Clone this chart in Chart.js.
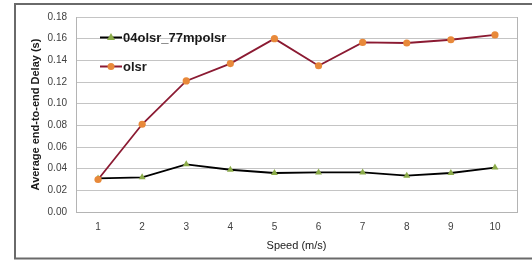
<!DOCTYPE html>
<html>
<head>
<meta charset="utf-8">
<script src="https://cdn.jsdelivr.net/npm/chart.js@4"></script>
<style>
  html, body { margin: 0; padding: 0; background: #fff; }
  #wrap { width: 532px; height: 260px; }
</style>
</head>
<body>
<div id="wrap"><canvas id="delayChart" width="532" height="260"></canvas></div>
<script>
// speeds on the x axis
const speeds = ['1', '2', '3', '4', '5', '6', '7', '8', '9', '10'];
// average end-to-end delay (s)
const mpolsrDelay = [0.031, 0.032, 0.044, 0.039, 0.036, 0.0365, 0.0365, 0.0335, 0.036, 0.041];
const olsrDelay = [0.030, 0.081, 0.121, 0.137, 0.160, 0.135, 0.1565, 0.156, 0.159, 0.1635];
const seriesNames = ['04olsr_77mpolsr', 'olsr'];
const yTicks = [0, 0.02, 0.04, 0.06, 0.08, 0.10, 0.12, 0.14, 0.16, 0.18];

const fontFamily = '"Liberation Sans", Arial, sans-serif';

// white background, outer frame and plot border
const framePlugin = {
    id: 'frame',
    beforeDraw(chart) {
        const ctx = chart.ctx;
        ctx.save();
        ctx.fillStyle = '#fff';
        ctx.fillRect(0, 0, chart.width, chart.height);
        ctx.strokeStyle = '#6a6a6a';
        ctx.lineWidth = 2;
        ctx.beginPath();
        ctx.moveTo(chart.width + 5, 4);
        ctx.lineTo(15, 4);
        ctx.lineTo(15, 258.5);
        ctx.lineTo(chart.width + 5, 258.5);
        ctx.stroke();
        ctx.restore();
    },
    afterDatasetsDraw(chart) {
        const a = chart.chartArea;
        const ctx = chart.ctx;
        ctx.save();
        ctx.strokeStyle = '#b4b4b4';
        ctx.lineWidth = 1;
        ctx.beginPath();
        ctx.moveTo(Math.round(a.right) + 0.5, a.top);
        ctx.lineTo(Math.round(a.right) + 0.5, a.bottom);
        ctx.stroke();
        ctx.restore();
    }
};

// legend drawn inside the plot area, top left
const innerLegend = {
    id: 'innerLegend',
    afterDraw(chart) {
        const ctx = chart.ctx;
        const rows = [37.5, 66.5];
        ctx.save();
        chart.data.datasets.forEach((ds, i) => {
            const y = rows[i];
            ctx.strokeStyle = ds.borderColor;
            ctx.lineWidth = 2;
            ctx.beginPath();
            ctx.moveTo(100, y);
            ctx.lineTo(122, y);
            ctx.stroke();
            ctx.fillStyle = ds.pointBackgroundColor;
            ctx.beginPath();
            if (ds.pointStyle === 'triangle') {
                ctx.moveTo(111, y - 4.5);
                ctx.lineTo(115, y + 2.5);
                ctx.lineTo(107, y + 2.5);
                ctx.closePath();
            } else {
                ctx.arc(111, y, 3.5, 0, Math.PI * 2);
            }
            ctx.fill();
            ctx.fillStyle = '#1a1a1a';
            ctx.font = 'bold 13px ' + fontFamily;
            ctx.textBaseline = 'middle';
            ctx.fillText(ds.label, 123, y + 0.5);
        });
        ctx.restore();
    }
};

const config = {
    type: 'line',
    data: {
        labels: speeds,
        datasets: [
            {
                label: seriesNames[0],
                data: mpolsrDelay,
                borderColor: '#000000',
                borderWidth: 1.8,
                pointStyle: 'triangle',
                pointRadius: 4,
                pointBackgroundColor: '#8cac4a',
                pointBorderColor: '#8cac4a',
                pointBorderWidth: 0,
                order: 1,
                tension: 0
            },
            {
                label: seriesNames[1],
                data: olsrDelay,
                borderColor: '#8b1a32',
                borderWidth: 1.8,
                pointStyle: 'circle',
                pointRadius: 3.6,
                pointBackgroundColor: '#e8893a',
                pointBorderColor: '#e8893a',
                pointBorderWidth: 0,
                order: 0,
                tension: 0
            }
        ]
    },
    options: {
        responsive: false,
        animation: false,
        layout: {
            padding: { left: 15, right: 15, top: 17, bottom: 0 }
        },
        plugins: {
            legend: { display: false },
            tooltip: { enabled: false }
        },
        scales: {
            x: {
                offset: true,
                afterFit(scale) { scale.height = 48; },
                grid: { display: false, drawTicks: false },
                border: { display: true, color: '#b4b4b4' },
                ticks: {
                    padding: 9,
                    color: '#404040',
                    font: { family: fontFamily, size: 10 }
                },
                title: {
                    display: true,
                    text: 'Speed (m/s)',
                    color: '#1a1a1a',
                    padding: { top: 0, bottom: 7 },
                    font: { family: fontFamily, size: 11 }
                }
            },
            y: {
                min: 0,
                max: 0.18,
                afterFit(scale) { scale.width = 61; },
                afterBuildTicks(scale) {
                    scale.ticks = yTicks.map(v => ({ value: v }));
                },
                grid: { color: '#c4c4c4', drawTicks: false },
                border: { display: true, color: '#b4b4b4' },
                ticks: {
                    padding: 9,
                    color: '#404040',
                    font: { family: fontFamily, size: 10 },
                    callback: v => v.toFixed(2)
                },
                title: {
                    display: true,
                    text: 'Average end-to-end Delay (s)',
                    color: '#1a1a1a',
                    padding: { top: 14, bottom: 0 },
                    font: { family: fontFamily, size: 11, weight: 'bold' }
                }
            }
        }
    },
    plugins: [framePlugin, innerLegend]
};

const delayChart = new Chart(document.getElementById('delayChart'), config);
</script>
</body>
</html>
